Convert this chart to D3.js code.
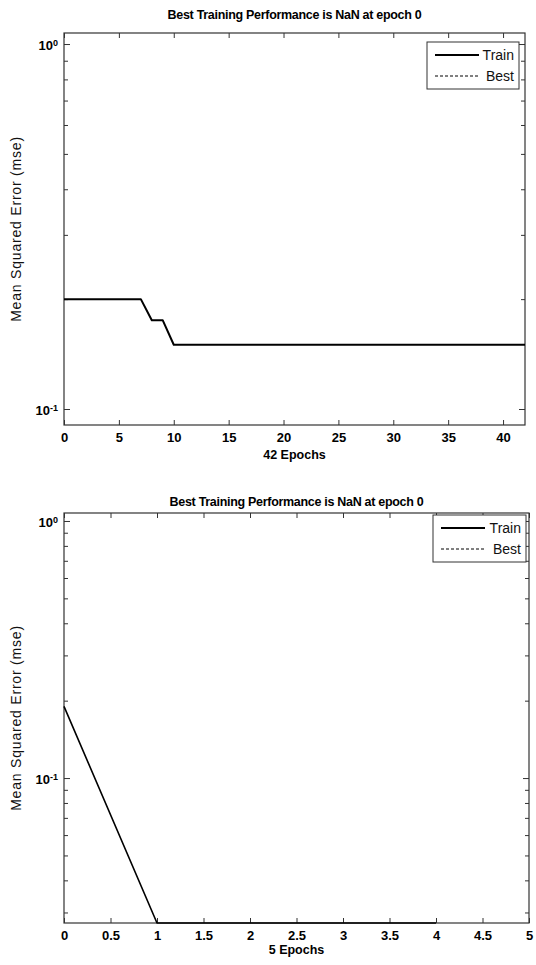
<!DOCTYPE html>
<html>
<head>
<meta charset="utf-8">
<script src="https://cdn.jsdelivr.net/npm/d3@7"></script>
<style>
  body { margin: 0; background: #fff; }
  svg { display: block; font-family: "Liberation Sans", Arial, Helvetica, sans-serif; }
  .axis text { font-size: 13px; font-weight: bold; fill: #000; }
  .axis line, .axis path { stroke: #333; }
</style>
</head>
<body>
<svg id="chart" width="536" height="965"></svg>
<script>
// values
const titleText = "Best Training Performance is NaN at epoch 0";
const yLabelText = "Mean Squared Error  (mse)";
const legendNames = ["Train", "Best"];

// top figure: 42 epochs
const topTrain = [
  0.2, 0.2, 0.2, 0.2, 0.2, 0.2, 0.2, 0.2, 0.175, 0.175,
  0.15, 0.15, 0.15, 0.15, 0.15, 0.15, 0.15, 0.15, 0.15, 0.15,
  0.15, 0.15, 0.15, 0.15, 0.15, 0.15, 0.15, 0.15, 0.15, 0.15,
  0.15, 0.15, 0.15, 0.15, 0.15, 0.15, 0.15, 0.15, 0.15, 0.15,
  0.15, 0.15, 0.15
];
const topXTicks = [0, 5, 10, 15, 20, 25, 30, 35, 40];
const topXLabel = "42 Epochs";

// bottom figure: 5 epochs (last point sits on the lower limit)
const bottomTrain = [0.19, 0.0273, 0.0273, 0.0273, 0.0273];
const bottomXTicks = [0, 0.5, 1, 1.5, 2, 2.5, 3, 3.5, 4, 4.5, 5];
const bottomXLabel = "5 Epochs";

// best series is NaN in both figures, so nothing is drawn for it
const bestValues = [];

const yMajorTicks = [0.1, 1];
const yTickExponents = ["-1", "0"];
const yMinorSteps = [2, 3, 4, 5, 6, 7, 8, 9];

const svg = d3.select("#chart");
svg.append("rect").attr("width", 536).attr("height", 965).attr("fill", "#fff");

function drawPanel(p) {
  const x = d3.scaleLinear().domain(p.xDomain).range([p.left, p.right]);
  const y = d3.scaleLog().domain(p.yDomain).range([p.bottom, p.top]);
  const g = svg.append("g");

  // minor ticks: 2..9 times each decade, kept inside the domain
  const minorTicks = [];
  [0.01, 0.1].forEach(dec => yMinorSteps.forEach(m => {
    const v = +(m * dec).toPrecision(3);
    if (v >= p.yDomain[0] && v <= p.yDomain[1]) minorTicks.push(v);
  }));

  // bottom axis with labels
  g.append("g").attr("class", "axis")
    .attr("transform", "translate(0," + p.bottom + ")")
    .call(d3.axisBottom(x).tickValues(p.xTicks).tickSize(-5).tickSizeOuter(0).tickPadding(8)
      .tickFormat(d3.format("")));
  // top axis, ticks only
  g.append("g").attr("class", "axis")
    .attr("transform", "translate(0," + p.top + ")")
    .call(d3.axisTop(x).tickValues(p.xTicks).tickSize(-5).tickSizeOuter(0).tickFormat(""));

  // left: major + minor ticks
  const left = g.append("g").attr("class", "axis")
    .attr("transform", "translate(" + p.left + ",0)")
    .call(d3.axisLeft(y).tickValues(yMajorTicks).tickSize(-6).tickSizeOuter(0).tickPadding(6)
      .tickFormat(() => ""));
  left.selectAll(".tick text").each(function(d, i) {
    const t = d3.select(this).attr("dy", "0.45em");
    t.append("tspan").text("10");
    t.append("tspan").attr("dy", "-0.5em").style("font-size", "9px").text(yTickExponents[i]);
  });
  g.append("g").attr("class", "axis")
    .attr("transform", "translate(" + p.left + ",0)")
    .call(d3.axisLeft(y).tickValues(minorTicks).tickSize(-4).tickSizeOuter(0).tickFormat(""));

  // right: major + minor ticks
  g.append("g").attr("class", "axis")
    .attr("transform", "translate(" + p.right + ",0)")
    .call(d3.axisRight(y).tickValues(yMajorTicks).tickSize(-6).tickSizeOuter(0).tickFormat(""));
  g.append("g").attr("class", "axis")
    .attr("transform", "translate(" + p.right + ",0)")
    .call(d3.axisRight(y).tickValues(minorTicks).tickSize(-4).tickSizeOuter(0).tickFormat(""));

  g.selectAll(".axis path").remove();

  // box
  g.append("rect")
    .attr("x", p.left).attr("y", p.top)
    .attr("width", p.right - p.left).attr("height", p.bottom - p.top)
    .attr("fill", "none").attr("stroke", "#333").attr("stroke-width", 1.2);

  // train line
  const line = d3.line().x((d, i) => x(i)).y(d => y(d));
  g.append("path").datum(p.train)
    .attr("d", line)
    .attr("fill", "none").attr("stroke", "#000")
    .attr("stroke-width", p.lineWidth).attr("stroke-linejoin", "round");
  g.append("path").datum(bestValues)
    .attr("d", line)
    .attr("fill", "none").attr("stroke", "#000").attr("stroke-dasharray", "3,2");

  // title
  g.append("text")
    .attr("x", (p.left + p.right) / 2).attr("y", p.titleY)
    .attr("text-anchor", "middle")
    .style("font-size", "12.5px").style("font-weight", "bold").style("letter-spacing", "-0.3px")
    .text(titleText);

  // axis labels
  g.append("text")
    .attr("x", (p.left + p.right) / 2).attr("y", p.xLabelY)
    .attr("text-anchor", "middle")
    .style("font-size", "12.5px").style("font-weight", "bold")
    .text(p.xLabel);
  g.append("text")
    .attr("transform", "translate(" + p.yLabelX + "," + (p.top + p.bottom) / 2 + ") rotate(-90)")
    .attr("text-anchor", "middle")
    .style("font-size", "14px").style("letter-spacing", "0.8px").style("fill", "#111")
    .text(yLabelText);

  // legend
  const lg = g.append("g").attr("transform", "translate(" + p.legend[0] + "," + p.legend[1] + ")");
  lg.append("rect").attr("width", p.legend[2]).attr("height", 47)
    .attr("fill", "#fff").attr("stroke", "#333").attr("stroke-width", 1);
  legendNames.forEach((name, i) => {
    const ly = 13 + i * 21;
    lg.append("line")
      .attr("x1", 8).attr("x2", 52).attr("y1", ly).attr("y2", ly)
      .attr("stroke", "#000")
      .attr("stroke-width", i === 0 ? 2 : 1)
      .attr("stroke-dasharray", i === 0 ? null : "3,2");
    lg.append("text")
      .attr("x", p.legend[2] - 5).attr("y", ly + 5)
      .attr("text-anchor", "end")
      .style("font-size", "14px").style("fill", "#111")
      .text(name);
  });
}

drawPanel({
  left: 64, right: 525, top: 33, bottom: 425,
  xDomain: [0, 42], yDomain: [0.0904, 1.072],
  xTicks: topXTicks, xLabel: topXLabel, train: topTrain, lineWidth: 2,
  titleY: 19, xLabelY: 459, yLabelX: 21, legend: [427, 42, 92]
});

drawPanel({
  left: 64, right: 529, top: 513, bottom: 923,
  xDomain: [0, 5], yDomain: [0.0273, 1.074],
  xTicks: bottomXTicks, xLabel: bottomXLabel, train: bottomTrain, lineWidth: 1.6,
  titleY: 506, xLabelY: 954, yLabelX: 21, legend: [433, 515, 93]
});
</script>
</body>
</html>
